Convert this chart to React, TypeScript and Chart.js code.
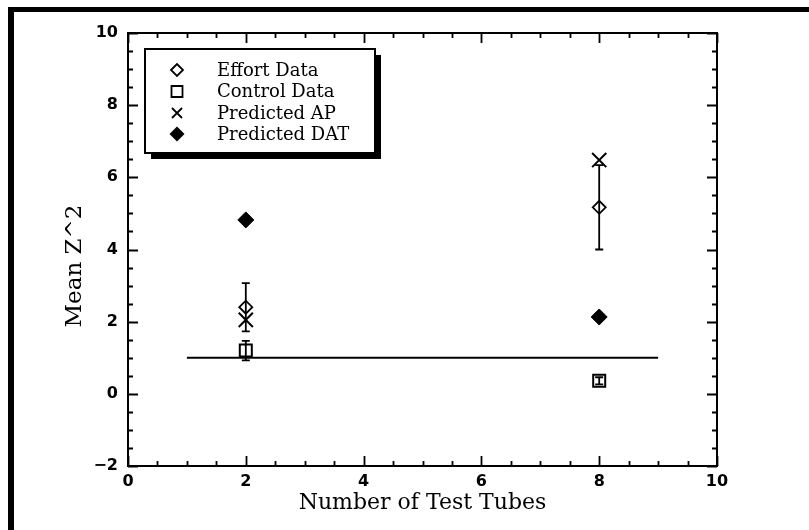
import React, { useEffect, useRef } from "react";
import { Chart, registerables } from "chart.js";
Chart.register(...registerables);

// ---- data ----
const xValues = [2, 8];
const effortData = [2.4, 5.17];
const effortErr = [0.67, 1.17];
const controlData = [1.2, 0.36];
const controlErr = [0.27, 0.1];
const predictedAP = [2.05, 6.48];
const predictedDAT = [4.82, 2.13];
const refLineX = [1, 9];
const refLineY = [1, 1];
const xTicks = [0, 2, 4, 6, 8, 10];
const yTicks = [-2, 0, 2, 4, 6, 8, 10];
const seriesLabels = ["Effort Data", "Control Data", "Predicted AP", "Predicted DAT"];
const xTitle = "Number of Test Tubes";
const yTitle = "Mean Z^2";

const SERIF = "'DejaVu Serif', serif";
const SANS = "'DejaVu Sans', sans-serif";

function drawSymbol(ctx: CanvasRenderingContext2D, kind: number, x: number, y: number, s: number) {
  ctx.save();
  ctx.strokeStyle = "#000";
  ctx.fillStyle = "#000";
  ctx.lineWidth = 1.8;
  ctx.beginPath();
  if (kind === 0 || kind === 3) {
    ctx.moveTo(x - s, y);
    ctx.lineTo(x, y - s);
    ctx.lineTo(x + s, y);
    ctx.lineTo(x, y + s);
    ctx.closePath();
    if (kind === 3) ctx.fill();
    else ctx.stroke();
  } else if (kind === 1) {
    ctx.rect(x - s, y - s, 2 * s, 2 * s);
    ctx.stroke();
  } else {
    ctx.moveTo(x - s, y - s);
    ctx.lineTo(x + s, y + s);
    ctx.moveTo(x + s, y - s);
    ctx.lineTo(x - s, y + s);
    ctx.stroke();
  }
  ctx.restore();
}

const decorPlugin = {
  id: "decor",
  afterDatasetsDraw(chart: any) {
    const { ctx } = chart;
    const xs = chart.scales.x;
    const ys = chart.scales.y;
    // error bars
    const bars = [
      { vals: effortData, errs: effortErr },
      { vals: controlData, errs: controlErr },
    ];
    ctx.save();
    ctx.strokeStyle = "#000";
    ctx.lineWidth = 1.8;
    bars.forEach((b) => {
      xValues.forEach((xv, i) => {
        const px = xs.getPixelForValue(xv);
        const top = ys.getPixelForValue(b.vals[i] + b.errs[i]);
        const bot = ys.getPixelForValue(b.vals[i] - b.errs[i]);
        ctx.beginPath();
        ctx.moveTo(px, top);
        ctx.lineTo(px, bot);
        ctx.moveTo(px - 4, top);
        ctx.lineTo(px + 4, top);
        ctx.moveTo(px - 4, bot);
        ctx.lineTo(px + 4, bot);
        ctx.stroke();
      });
    });
    ctx.restore();
  },
  afterDraw(chart: any) {
    const { ctx, chartArea: a } = chart;
    const xs = chart.scales.x;
    const ys = chart.scales.y;
    ctx.save();
    ctx.strokeStyle = "#000";
    ctx.lineWidth = 2;
    ctx.strokeRect(a.left, a.top, a.right - a.left, a.bottom - a.top);
    ctx.lineWidth = 1.8;
    ctx.beginPath();
    for (let v = xs.min; v <= xs.max + 1e-9; v += 0.5) {
      const major = Math.abs(v / 2 - Math.round(v / 2)) < 1e-9;
      const len = major ? 10 : 5;
      const px = Math.round(xs.getPixelForValue(v)) + 0.5;
      ctx.moveTo(px, a.bottom);
      ctx.lineTo(px, a.bottom - len);
      ctx.moveTo(px, a.top);
      ctx.lineTo(px, a.top + len);
    }
    for (let v = ys.min; v <= ys.max + 1e-9; v += 0.5) {
      const major = Math.abs(v / 2 - Math.round(v / 2)) < 1e-9;
      const len = major ? 10 : 5;
      const py = Math.round(ys.getPixelForValue(v)) + 0.5;
      ctx.moveTo(a.left, py);
      ctx.lineTo(a.left + len, py);
      ctx.moveTo(a.right, py);
      ctx.lineTo(a.right - len, py);
    }
    ctx.stroke();

    // y title
    ctx.save();
    ctx.translate(75, 266);
    ctx.rotate(-Math.PI / 2);
    ctx.font = `23px ${SERIF}`;
    ctx.fillStyle = "#000";
    ctx.textAlign = "center";
    ctx.textBaseline = "middle";
    ctx.fillText(yTitle, 0, 0);
    ctx.restore();

    // legend box with shadow
    const L = 145, T = 49, R = 375, B = 153, sh = 6;
    ctx.fillStyle = "#000";
    ctx.fillRect(L + sh, B, R - L, sh);
    ctx.fillRect(R, T + sh, sh, B - T);
    ctx.fillStyle = "#fff";
    ctx.fillRect(L, T, R - L, B - T);
    ctx.lineWidth = 2;
    ctx.strokeRect(L, T, R - L, B - T);
    const rowY = [70, 91.5, 113, 134];
    const sizes = [6, 5.5, 5, 7.5];
    ctx.font = `18px ${SERIF}`;
    ctx.fillStyle = "#000";
    ctx.textAlign = "left";
    ctx.textBaseline = "middle";
    seriesLabels.forEach((lab, i) => {
      drawSymbol(ctx, i, 177, rowY[i], sizes[i]);
      ctx.fillStyle = "#000";
      ctx.fillText(lab, 217, rowY[i] + 1);
    });
    ctx.restore();
  },
};

export default function App() {
  const ref = useRef<HTMLCanvasElement | null>(null);
  useEffect(() => {
    if (!ref.current) return;
    const pts = (ys: number[]) => xValues.map((x, i) => ({ x, y: ys[i] }));
    const chart = new Chart(ref.current, {
      type: "scatter",
      data: {
        datasets: [
          {
            label: seriesLabels[0],
            data: pts(effortData),
            pointStyle: "rectRot",
            pointRadius: 6.5,
            borderColor: "#000",
            backgroundColor: "rgba(0,0,0,0)",
            borderWidth: 1.8,
          },
          {
            label: seriesLabels[1],
            data: pts(controlData),
            pointStyle: "rect",
            pointRadius: 8.5,
            borderColor: "#000",
            backgroundColor: "rgba(0,0,0,0)",
            borderWidth: 2,
          },
          {
            label: seriesLabels[2],
            data: pts(predictedAP),
            pointStyle: "crossRot",
            pointRadius: 10,
            borderColor: "#000",
            backgroundColor: "#000",
            borderWidth: 2,
          },
          {
            label: seriesLabels[3],
            data: pts(predictedDAT),
            pointStyle: "rectRot",
            pointRadius: 8,
            borderColor: "#000",
            backgroundColor: "#000",
            borderWidth: 1,
          },
          {
            label: "Reference",
            type: "line",
            data: refLineX.map((x, i) => ({ x, y: refLineY[i] })),
            borderColor: "#000",
            borderWidth: 2,
            pointRadius: 0,
            showLine: true,
          } as any,
        ],
      },
      options: {
        responsive: false,
        animation: false,
        devicePixelRatio: 1,
        layout: { padding: { left: 0, top: 33, right: 92, bottom: 0 } },
        plugins: { legend: { display: false }, tooltip: { enabled: false } },
        scales: {
          x: {
            type: "linear",
            min: 0,
            max: 10,
            afterFit: (s: any) => {
              s.height = 64;
            },
            afterBuildTicks: (s: any) => {
              s.ticks = xTicks.map((v) => ({ value: v }));
            },
            grid: { display: false, drawTicks: false },
            border: { display: false },
            ticks: {
              color: "#000",
              padding: 6,
              maxRotation: 0,
              font: { family: SANS, weight: "bold", size: 16 },
            },
            title: {
              display: true,
              text: xTitle,
              color: "#000",
              font: { family: SERIF, size: 22 },
              padding: { top: 0, bottom: 14 },
            },
          },
          y: {
            type: "linear",
            min: -2,
            max: 10,
            afterFit: (s: any) => {
              s.width = 128;
            },
            afterBuildTicks: (s: any) => {
              s.ticks = yTicks.map((v) => ({ value: v }));
            },
            grid: { display: false, drawTicks: false },
            border: { display: false },
            ticks: {
              color: "#000",
              padding: 10,
              font: { family: SANS, weight: "bold", size: 16 },
              callback: (v: any) => String(v).replace("-", "\u2212"),
            },
          },
        },
      } as any,
      plugins: [decorPlugin],
    });
    return () => chart.destroy();
  }, []);

  return (
    <div style={{ position: "fixed", left: 0, top: 0, width: 809, height: 530, background: "#fff" }}>
      <canvas ref={ref} width={809} height={530} style={{ position: "absolute", left: 0, top: 0 }} />
      <div
        style={{
          position: "absolute",
          left: 8,
          top: 7,
          right: 0,
          bottom: 0,
          borderLeft: "6px solid #000",
          borderTop: "5px solid #000",
          pointerEvents: "none",
        }}
      />
    </div>
  );
}
